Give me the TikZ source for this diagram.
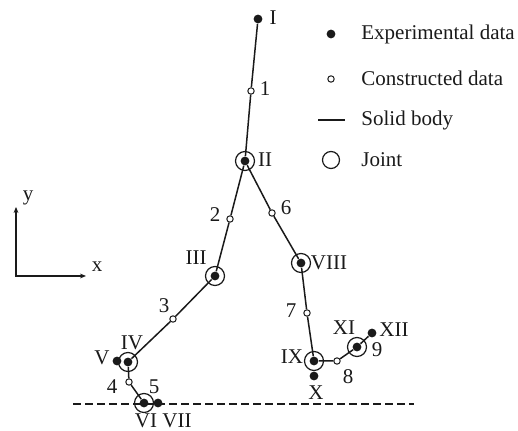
\documentclass[tikz,border=0pt]{standalone}
\usepackage{fontspec}
\setmainfont{Liberation Serif}
\usepackage{tikz}
\usetikzlibrary{arrows.meta}
\definecolor{Ink}{HTML}{1A1A1A}
\tikzset{
  expdot/.style={circle, fill=Ink, inner sep=0pt, minimum size=4.4pt},
  condot/.style={circle, draw=Ink, fill=white, line width=0.5pt, inner sep=0pt, minimum size=3.2pt},
  jointring/.style={circle, draw=Ink, line width=0.6pt, inner sep=0pt, minimum size=9.5pt},
  body/.style={draw=Ink, line width=0.75pt},
  lbl/.style={inner sep=0pt, text=Ink, font=\fontsize{10.5}{12}\selectfont}
}
\begin{document}
\begin{tikzpicture}[x=0.5pt, y=-0.5pt]
  \useasboundingbox (0,0) rectangle (518,431);
  % experimental points
  \node[expdot] (pI) at (258,19) {};
  \node[expdot] (pII) at (245,161) {};
  \node[expdot] (pIII) at (215,276) {};
  \node[expdot] (pIV) at (128,362) {};
  \node[expdot] (pV) at (117,361) {};
  \node[expdot] (pVI) at (144,403) {};
  \node[expdot] (pVII) at (158,403) {};
  \node[expdot] (pVIII) at (301,263) {};
  \node[expdot] (pIX) at (314,361) {};
  \node[expdot] (pX) at (314,376) {};
  \node[expdot] (pXI) at (357,347) {};
  \node[expdot] (pXII) at (372,333) {};
  % constructed points
  \node[condot] (c1) at (251,91) {};
  \node[condot] (c2) at (230,219) {};
  \node[condot] (c3) at (173,319) {};
  \node[condot] (c4) at (129,382) {};
  \node[condot] (c6) at (272,213) {};
  \node[condot] (c7) at (307,313) {};
  \node[condot] (c8) at (337,361) {};
  % joints
  \foreach \j in {II,III,IV,VI,VIII,IX,XI}
    \node[jointring] (r\j) at (p\j) {};
  % solid bodies
  \draw[body] (pI) -- (c1) -- (pII);
  \draw[body] (pII) -- (c2) -- (pIII) -- (c3) -- (pIV) -- (c4) -- (pVI);
  \draw[body] (pII) -- (c6) -- (pVIII) -- (c7) -- (pIX) -- (c8) -- (pXI) -- (pXII);
  % ground
  \coordinate (g1) at (73,404);
  \coordinate (g2) at (414,404);
  \draw[Ink, line width=0.7pt, dash pattern=on 4pt off 2pt] (g1) -- (g2);
  % labels
  \node[lbl] at (273,18) {I};
  \node[lbl] at (265,89) {1};
  \node[lbl] at (265,160) {II};
  \node[lbl] at (215,215) {2};
  \node[lbl] at (286,208) {6};
  \node[lbl] at (196,258) {III};
  \node[lbl] at (329,263) {VIII};
  \node[lbl] at (164,306) {3};
  \node[lbl] at (132,343) {IV};
  \node[lbl] at (102,358) {V};
  \node[lbl] at (112,387) {4};
  \node[lbl] at (154,387) {5};
  \node[lbl] at (146,421) {VI};
  \node[lbl] at (177,421) {VII};
  \node[lbl] at (291,311) {7};
  \node[lbl] at (292,357) {IX};
  \node[lbl] at (316,393) {X};
  \node[lbl] at (348,377) {8};
  \node[lbl] at (344,328) {XI};
  \node[lbl] at (377,350) {9};
  \node[lbl] at (394,330) {XII};
  % axes
  \coordinate (o) at (16,276);
  \coordinate (ytip) at (16,207);
  \coordinate (xtip) at (86,276);
  \draw[Ink, line width=0.75pt, {Stealth[length=3pt,width=2.4pt]}-{Stealth[length=3pt,width=2.4pt]}] (ytip) -- (o) -- (xtip);
  \node[lbl] at (28,198) {y};
  \node[lbl] at (97,267) {x};
  % legend
  \node[expdot] (kexp) at (331,34) {};
  \node[lbl, anchor=west] at (361,34) {Experimental data};
  \node[condot] (kcon) at (331,79) {};
  \node[lbl, anchor=west] at (361,78) {Constructed data};
  \coordinate (ks1) at (318,120);
  \coordinate (ks2) at (345,120);
  \draw[body] (ks1) -- (ks2);
  \node[lbl, anchor=west] at (361,120) {Solid body};
  \node[jointring, minimum size=8.5pt] (kjoint) at (331,160) {};
  \node[lbl, anchor=west] at (361,160) {Joint};
\end{tikzpicture}
\end{document}
